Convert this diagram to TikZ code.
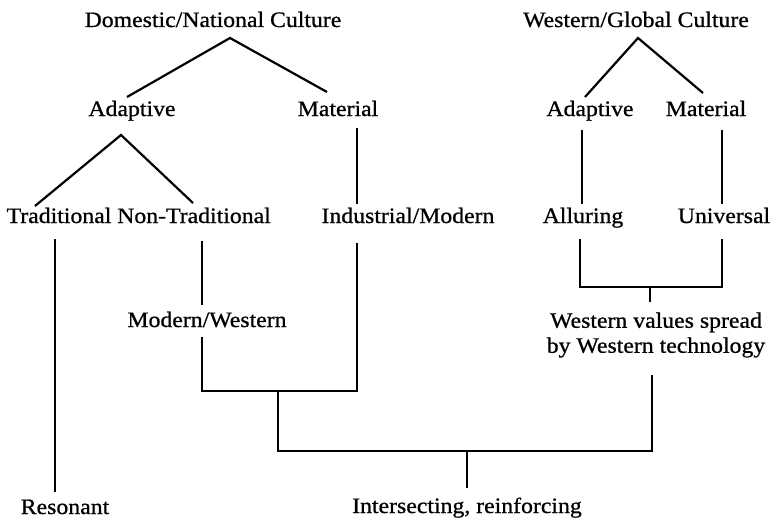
\documentclass[tikz,border=0pt]{standalone}
\usepackage{fontspec}
\setmainfont[FakeStretch=1.08,FakeBold=0.8]{Liberation Serif}
\begin{document}
\begin{tikzpicture}[x=1pt,y=-1pt,
  lbl/.style={inner sep=0pt, anchor=base, font=\fontsize{22}{25}\selectfont, align=center},
  conn/.style={line width=2.2pt, line cap=butt, line join=miter}]
\useasboundingbox (0,0) rectangle (773,522);
% text nodes
\node[lbl] (dom) at (213,27) {Domestic/National Culture};
\node[lbl] (wgc) at (636,27) {Western/Global Culture};
\node[lbl] (dad) at (132,116) {Adaptive};
\node[lbl] (dma) at (338,116) {Material};
\node[lbl] (wad) at (590,116) {Adaptive};
\node[lbl] (wma) at (706,116) {Material};
\node[lbl] (tra) at (59,223) {Traditional};
\node[lbl] (ntr) at (194,223) {Non-Traditional};
\node[lbl] (ind) at (408,223) {Industrial/Modern};
\node[lbl] (all) at (583,223) {Alluring};
\node[lbl] (uni) at (724,223) {Universal};
\node[lbl] (mw) at (207,327) {Modern/Western};
\node[lbl, anchor=center] (wv) at (656,335) {Western values spread\\by Western technology};
\node[lbl] (res) at (65,514) {Resonant};
\node[lbl] (int) at (467,513) {Intersecting, reinforcing};
% connector points
\coordinate (domA) at (230,38);
\coordinate (dadT) at (127,97);
\coordinate (dmaT) at (327,92);
\coordinate (dadB) at (121,135);
\coordinate (traT) at (35,206);
\coordinate (ntrT) at (193,203);
\coordinate (dmaB) at (357,128);
\coordinate (indT) at (357,204);
\coordinate (wgcA) at (638,38);
\coordinate (wadT) at (585,97);
\coordinate (wmaT) at (703,93);
\coordinate (wadB) at (582,130);
\coordinate (allT) at (582,204);
\coordinate (wmaB) at (722,130);
\coordinate (uniT) at (722,204);
\coordinate (traB) at (55,239);
\coordinate (resT) at (55,492);
\coordinate (ntrB) at (202,241);
\coordinate (mwT) at (202,305);
\coordinate (mwB) at (202,337);
\coordinate (indB) at (357,243);
\coordinate (allB) at (580,239);
\coordinate (uniB) at (722,239);
\coordinate (wvT) at (650,302);
\coordinate (wvB) at (652,375);
\coordinate (intT) at (467,488);
% connectors
\draw[conn] (dadT) -- (domA) -- (dmaT);
\draw[conn] (traT) -- (dadB) -- (ntrT);
\draw[conn] (dmaB) -- (indT);
\draw[conn] (wadT) -- (wgcA) -- (wmaT);
\draw[conn] (wadB) -- (allT);
\draw[conn] (wmaB) -- (uniT);
\draw[conn] (traB) -- (resT);
\draw[conn] (ntrB) -- (mwT);
\draw[conn] (mwB) |- (278,391) -| (indB);
\draw[conn] (278,391) |- (467,451) -| (wvB);
\draw[conn] (467,451) -- (intT);
\draw[conn] (allB) |- (650,287) -| (uniB);
\draw[conn] (650,287) -- (wvT);
\end{tikzpicture}
\end{document}
